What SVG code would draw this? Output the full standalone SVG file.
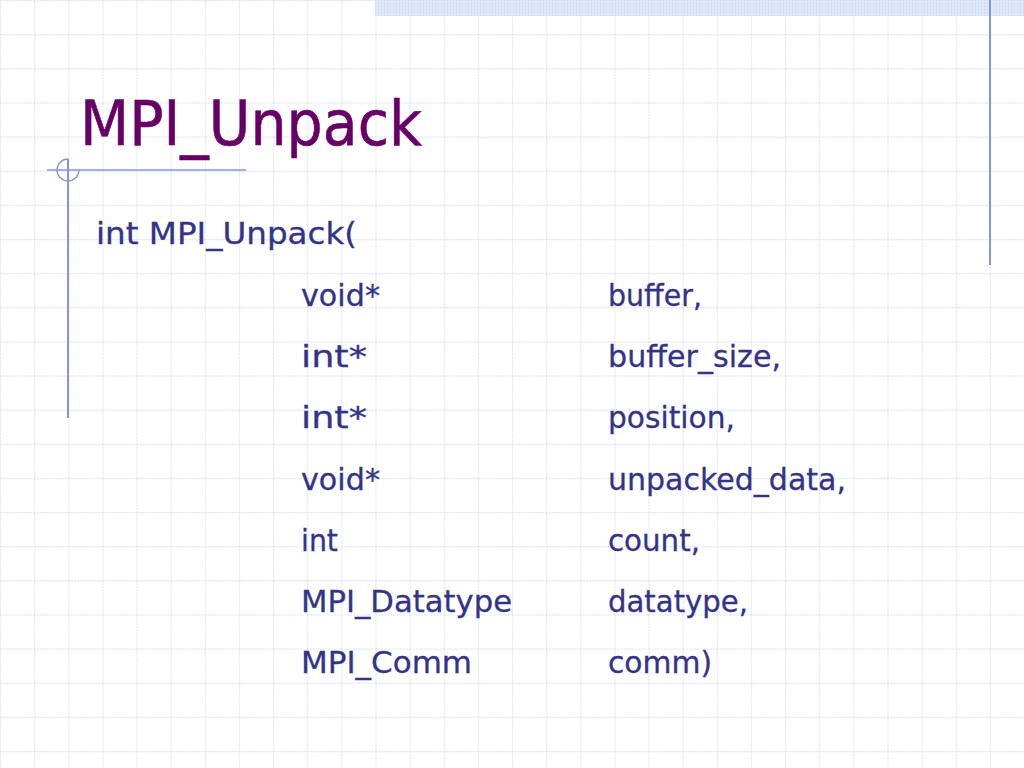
<svg xmlns="http://www.w3.org/2000/svg" width="1024" height="768" viewBox="0 0 1024 768">
  <defs>
    <pattern id="grid" x="0" y="0" width="34.133" height="34.133" patternUnits="userSpaceOnUse">
      <line x1="0" y1="0.5" x2="34.133" y2="0.5" stroke="#dfe3f3" stroke-width="1.2" stroke-dasharray="2 1"/>
      <line x1="0.5" y1="0" x2="0.5" y2="34.133" stroke="#dfe3f3" stroke-width="1.2" stroke-dasharray="2 1"/>
    </pattern>
    <pattern id="dots" x="0" y="0" width="3" height="3" patternUnits="userSpaceOnUse">
      <rect width="3" height="3" fill="#dfe7fb"/>
      <rect width="1" height="1" fill="#c9d5f5"/>
    </pattern>
    <style>
      .title { font-family: "DejaVu Sans", "Liberation Sans", sans-serif; font-size: 63px; fill: #660066; stroke: #660066; stroke-width: 0.6px; }
      .body { font-family: "DejaVu Sans", "Liberation Sans", sans-serif; font-size: 31px; fill: #333388; stroke: #333388; stroke-width: 0.3px; }
      .deco { stroke: #8396dc; fill: none; }
    </style>
  </defs>
  <rect width="1024" height="768" fill="#ffffff"/>
  <rect width="1024" height="768" fill="url(#grid)"/>
  <g id="decor">
    <rect x="375" y="0" width="649" height="16" fill="url(#dots)"/>
    <line class="deco" x1="990" y1="0" x2="990" y2="265" stroke-width="2"/>
    <line class="deco" x1="47" y1="170" x2="246" y2="170" stroke-width="1.3"/>
    <line class="deco" x1="68" y1="159" x2="68" y2="418" stroke-width="2"/>
    <path class="deco" d="M 68 159 A 11 11 0 1 0 79 170" stroke-width="1.3"/>
  </g>
  <g id="title">
    <text class="title" x="80" y="145" textLength="342" lengthAdjust="spacingAndGlyphs">MPI_Unpack</text>
  </g>
  <g id="signature">
    <text class="body" x="96" y="244" textLength="261" lengthAdjust="spacingAndGlyphs">int MPI_Unpack(</text>
    <text class="body" x="301" y="305.5" textLength="79" lengthAdjust="spacingAndGlyphs">void*</text>
    <text class="body" x="608" y="305.5" textLength="94" lengthAdjust="spacingAndGlyphs">buffer,</text>
    <text class="body" x="301" y="367" textLength="66" lengthAdjust="spacingAndGlyphs">int*</text>
    <text class="body" x="608" y="367" textLength="173" lengthAdjust="spacingAndGlyphs">buffer_size,</text>
    <text class="body" x="301" y="428" textLength="66" lengthAdjust="spacingAndGlyphs">int*</text>
    <text class="body" x="608" y="428" textLength="127" lengthAdjust="spacingAndGlyphs">position,</text>
    <text class="body" x="301" y="489.5" textLength="79" lengthAdjust="spacingAndGlyphs">void*</text>
    <text class="body" x="608" y="489.5" textLength="238" lengthAdjust="spacingAndGlyphs">unpacked_data,</text>
    <text class="body" x="301" y="551" textLength="37" lengthAdjust="spacingAndGlyphs">int</text>
    <text class="body" x="608" y="551" textLength="92" lengthAdjust="spacingAndGlyphs">count,</text>
    <text class="body" x="301" y="612" textLength="211" lengthAdjust="spacingAndGlyphs">MPI_Datatype</text>
    <text class="body" x="608" y="612" textLength="140" lengthAdjust="spacingAndGlyphs">datatype,</text>
    <text class="body" x="301" y="673" textLength="171" lengthAdjust="spacingAndGlyphs">MPI_Comm</text>
    <text class="body" x="608" y="673" textLength="104" lengthAdjust="spacingAndGlyphs">comm)</text>
  </g>
</svg>
